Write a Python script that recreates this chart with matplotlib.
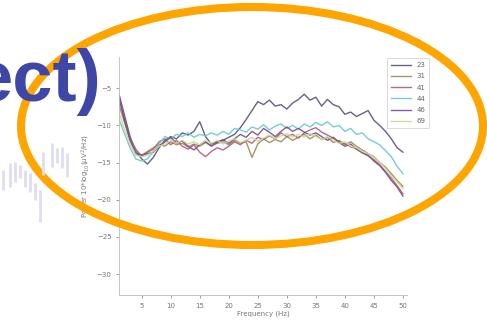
import matplotlib.pyplot as plt
from matplotlib.patches import Ellipse

# EEG power spectra per subject
freqs = list(range(1, 51))
s23 = [-5.5, -8.5, -11.5, -13.5, -14.5, -15.2, -14.3, -13.0, -12.0, -11.5,
       -11.8, -11.0, -11.3, -10.8, -9.5, -11.5, -12.5, -12.2, -12.0, -11.6,
       -11.2, -10.3, -9.2, -8.0, -6.8, -7.2, -6.6, -7.4, -7.2, -7.8,
       -7.0, -6.5, -5.8, -6.6, -6.2, -7.4, -6.5, -7.2, -7.5, -8.5,
       -8.2, -8.8, -8.4, -8.0, -9.3, -10.0, -10.8, -11.8, -13.0, -13.6]
s31 = [-7.0, -9.5, -12.0, -13.5, -14.0, -13.5, -13.0, -12.5, -12.8, -12.2,
       -12.6, -12.4, -12.9, -12.5, -12.8, -12.3, -12.7, -12.4, -12.2, -12.6,
       -12.0, -12.4, -12.2, -14.3, -12.5, -11.8, -12.3, -11.9, -12.2, -11.5,
       -12.0, -11.6, -11.2, -11.8, -11.3, -11.9, -11.6, -12.3, -12.0, -12.6,
       -12.2, -12.8, -13.3, -13.8, -14.2, -15.0, -15.6, -16.5, -17.4, -18.2]
s41 = [-5.8, -9.0, -11.8, -13.2, -14.2, -13.6, -13.2, -12.2, -11.8, -12.6,
       -12.0, -12.8, -13.2, -12.6, -13.6, -14.2, -13.5, -13.0, -13.3, -12.8,
       -12.2, -12.6, -12.0, -12.4, -11.6, -11.9, -11.4, -11.8, -11.0, -11.5,
       -11.2, -11.7, -11.0, -10.6, -10.3, -10.9, -11.3, -11.7, -12.2, -12.4,
       -12.9, -13.1, -13.6, -14.1, -14.6, -15.3, -16.2, -17.1, -18.1, -19.2]
s44 = [-9.0, -11.0, -13.0, -14.5, -14.8, -14.5, -13.5, -12.5, -11.5, -11.8,
       -11.2, -11.5, -11.0, -11.6, -11.2, -11.4, -11.0, -11.3, -10.8, -11.2,
       -10.4, -10.6, -10.9, -10.2, -10.5, -9.9, -10.6, -10.1, -9.8, -10.4,
       -10.0, -10.5, -9.8, -10.2, -9.6, -10.0, -9.5, -10.2, -10.0, -10.8,
       -10.4, -11.2, -11.0, -11.8, -12.2, -12.6, -13.4, -14.2, -15.5, -16.5]
s46 = [-6.0, -9.2, -12.0, -13.8, -14.0, -13.8, -13.6, -12.8, -12.2, -11.6,
       -12.4, -12.1, -12.8, -13.3, -12.6, -12.2, -12.8, -12.3, -11.9, -12.4,
       -11.8, -11.2, -11.6, -10.8, -11.3, -10.4, -10.9, -11.5, -10.8, -10.2,
       -10.8, -10.4, -10.9, -11.3, -11.0, -11.5, -12.0, -11.6, -12.3, -12.8,
       -12.5, -13.2, -13.7, -14.0, -14.8, -15.4, -16.3, -17.4, -18.3, -19.5]
s69 = [-8.0, -10.5, -12.5, -14.0, -14.2, -14.0, -13.5, -12.8, -12.5, -12.0,
       -12.4, -12.0, -12.5, -12.2, -12.6, -12.0, -12.4, -12.0, -12.5, -12.1,
       -11.8, -12.3, -12.0, -11.6, -12.1, -11.7, -11.3, -11.8, -11.4, -11.1,
       -11.6, -11.2, -11.6, -11.1, -11.5, -11.9, -11.5, -12.0, -12.4, -12.2,
       -12.8, -13.0, -13.5, -13.8, -14.3, -15.0, -15.8, -16.8, -17.6, -18.5]
subjects = ['23', '31', '41', '44', '46', '69']
series = [s23, s31, s41, s44, s46, s69]
colors = ['#55507f', '#9c8a5a', '#b05a80', '#66c9cc', '#7c4a8c', '#c8dc8c']

# faint background trace bits (slide decoration, pixel units)
wave_x = [3, 10, 15, 20, 25, 30, 35, 40, 43, 52, 57, 62, 67]
wave_lo = [170, 163, 162, 165, 170, 173, 183, 190, 152, 143, 148, 147, 153]
wave_hi = [190, 187, 182, 178, 187, 192, 200, 222, 175, 167, 163, 168, 177]

fig = plt.figure(figsize=(4.87, 3.28), dpi=100)
ax = fig.add_axes([0.2444, 0.1006, 0.5913, 0.7256])
for name, vals, c in zip(subjects, series, colors):
    ax.plot(freqs, vals, color=c, lw=1.0, alpha=0.9, label=name)
ax.set_xlim(1.1, 50.7)
ax.set_ylim(-32.8, -0.8)
ax.set_xticks(range(5, 51, 5))
ax.set_yticks([-5, -10, -15, -20, -25, -30])
ax.tick_params(labelsize=5, colors='#777777', length=2, width=0.5)
for s in ['top', 'right']:
    ax.spines[s].set_visible(False)
for s in ['left', 'bottom']:
    ax.spines[s].set_color('#bbbbbb')
    ax.spines[s].set_linewidth(0.6)
ax.set_xlabel('Frequency (Hz)', fontsize=5, color='#777777', labelpad=1)
ax.set_ylabel('Power 10*log$_{10}$($\\mu$V$^2$/Hz)', fontsize=5,
              color='#777777', labelpad=3)
leg = ax.legend(loc='upper right', bbox_to_anchor=(1.09, 1.01), fontsize=5,
                handlelength=2.8, labelspacing=0.75, borderpad=0.6,
                fancybox=False, framealpha=1)
leg.get_frame().set_edgecolor('#cccccc')
leg.get_frame().set_linewidth(0.5)
for t in leg.get_texts():
    t.set_color('#666666')

# overlay: slide title fragment and orange highlight ellipse
ov = fig.add_axes([0, 0, 1, 1], zorder=5)
ov.set_xlim(0, 487)
ov.set_ylim(328, 0)
ov.axis('off')
ov.patch.set_alpha(0)
ov.vlines(wave_x, wave_lo, wave_hi, color='#dedef2', lw=2)
ov.text(101, 101, 'ect)', fontsize=52, fontweight='bold', color='#3f47a6',
        family='Liberation Sans', ha='right', va='baseline')
ov.add_patch(Ellipse((252, 126), 462, 238, fill=False, edgecolor='#ffa500',
                     lw=5.8))

fig.savefig('out.png', dpi=100)
